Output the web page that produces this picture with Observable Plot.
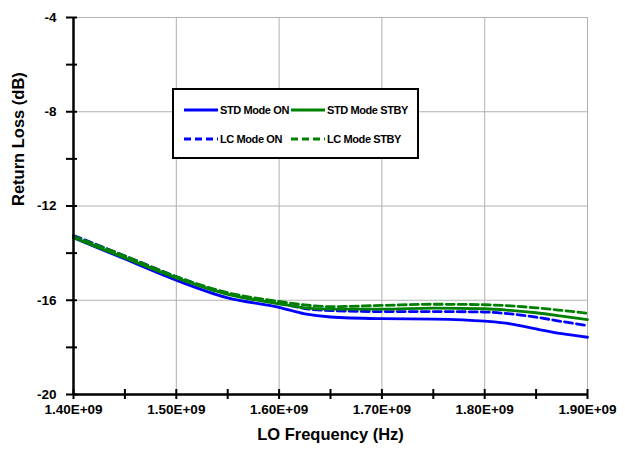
<!DOCTYPE html>
<html>
<head>
<meta charset="utf-8">
<script src="https://cdn.jsdelivr.net/npm/d3@7"></script>
<script src="https://cdn.jsdelivr.net/npm/@observablehq/plot@0.6"></script>
<style>
  body { margin: 0; background: #fff; }
  #wrap { position: relative; width: 625px; height: 452px; font-family: "Liberation Sans", Arial, sans-serif; font-weight: bold; }
  #legend { position: absolute; left: 172px; top: 88px; width: 243px; height: 67px; border: 2px solid #000; background: #fff; box-sizing: content-box; }
  .item { position: absolute; font-size: 11px; color: #000; display: flex; align-items: center; white-space: nowrap; letter-spacing: -0.4px; }
  .item svg { margin-right: 2px; }
</style>
</head>
<body>
<div id="wrap"><div id="chart"></div><div id="legend"></div></div>
<script>
// Frequencies (Hz, in units of 1e9)
const freqs = [1.40, 1.45, 1.50, 1.55, 1.60, 1.625, 1.65, 1.70, 1.75, 1.80, 1.825, 1.85, 1.875, 1.90];
const stdOn   = [-13.35, -14.25, -15.15, -15.90, -16.30, -16.58, -16.71, -16.78, -16.80, -16.89, -17.00, -17.22, -17.42, -17.57];
const stdStby = [-13.35, -14.20, -15.05, -15.75, -16.15, -16.32, -16.38, -16.38, -16.33, -16.36, -16.43, -16.53, -16.67, -16.82];
const lcOn    = [-13.25, -14.12, -15.00, -15.72, -16.12, -16.35, -16.44, -16.48, -16.48, -16.50, -16.58, -16.72, -16.90, -17.08];
const lcStby  = [-13.28, -14.12, -15.00, -15.68, -16.05, -16.20, -16.27, -16.22, -16.17, -16.19, -16.24, -16.32, -16.43, -16.55];

const seriesNames = ["STD Mode ON", "STD Mode STBY", "LC Mode ON", "LC Mode STBY"];
const seriesColors = ["#0000ff", "#008000", "#0000ff", "#008000"];
const seriesDash = [null, null, "8,4", "8,4"];
const seriesValues = [stdOn, stdStby, lcOn, lcStby];

const xTicks = [1.40, 1.45, 1.50, 1.55, 1.60, 1.65, 1.70, 1.75, 1.80, 1.85, 1.90].map(d => d * 1e9);
const xLabels = [1.40, 1.50, 1.60, 1.70, 1.80, 1.90].map(d => d * 1e9);
const xGrid = [1.50, 1.60, 1.70, 1.80, 1.90].map(d => d * 1e9);
const yTicks = [-20, -18, -16, -14, -12, -10, -8, -6, -4];
const yLabels = [-20, -16, -12, -8, -4];
const yGrid = [-16, -12, -8, -4];

const rows = [];
seriesNames.forEach((name, i) => {
  freqs.forEach((f, j) => rows.push({ series: name, f: f * 1e9, v: seriesValues[i][j] }));
});

const lineMarks = seriesNames.map((name, i) =>
  Plot.line(rows.filter(r => r.series === name), {
    x: "f", y: "v", stroke: seriesColors[i], strokeWidth: 2.8,
    strokeDasharray: seriesDash[i] || undefined, curve: "monotone-x"
  })
);
const ordered = [lineMarks[2], lineMarks[3], lineMarks[0], lineMarks[1]];

const chart = Plot.plot({
  width: 625,
  height: 452,
  marginLeft: 73,
  marginRight: 38,
  marginTop: 17,
  marginBottom: 58,
  style: { fontFamily: "'Liberation Sans', Arial, sans-serif", fontWeight: "bold", fontSize: "13.5px", color: "#000", background: "#fff" },
  x: { type: "linear", domain: [1.4e9, 1.9e9] },
  y: { domain: [-20, -4] },
  marks: [
    Plot.gridX({ ticks: xGrid, stroke: "#b0b0b0", strokeOpacity: 1, strokeWidth: 1 }),
    Plot.gridY({ ticks: yGrid, stroke: "#b0b0b0", strokeOpacity: 1, strokeWidth: 1 }),
    ...ordered,
    Plot.axisY({ ticks: yTicks, tickSize: 11, dx: 4, tickFormat: () => "", label: null, stroke: "#000", strokeWidth: 2 }),
    Plot.axisY({ ticks: yLabels, tickSize: 0, tickPadding: 17, tickFormat: d => String(d), label: null, fontSize: 13.5, fontWeight: "bold" }),
    Plot.axisX({ ticks: xTicks, tickSize: 10, dy: -5, tickFormat: () => "", label: null, stroke: "#000", strokeWidth: 2 }),
    Plot.axisX({ ticks: xLabels, tickSize: 0, tickPadding: 10, tickFormat: d => (d / 1e9).toFixed(2) + "E+09", label: null, fontSize: 13.5, fontWeight: "bold" }),
    Plot.ruleX([1.4e9], { stroke: "#000", strokeWidth: 2.5 }),
    Plot.ruleY([-20], { stroke: "#000", strokeWidth: 2.5 }),
    Plot.text(["LO Frequency (Hz)"], { frameAnchor: "bottom", dy: 45, fontSize: 16.5, fontWeight: "bold", fill: "#000" }),
    Plot.text(["Return Loss (dB)"], { frameAnchor: "left", dx: -55, rotate: -90, fontSize: 16.5, fontWeight: "bold", fill: "#000" })
  ]
});
document.getElementById("chart").appendChild(chart);

// Legend (HTML overlay inside the plot area)
const legend = document.getElementById("legend");
const legendPos = [[10, 23], [117, 23], [10, 52], [117, 52]];
seriesNames.forEach((name, i) => {
  const div = document.createElement("div");
  div.className = "item";
  div.style.left = legendPos[i][0] + "px";
  div.style.top = (legendPos[i][1] - 9) + "px";
  const dash = seriesDash[i] ? `stroke-dasharray="7,4"` : "";
  div.innerHTML = `<svg width="34" height="6"><line x1="0" y1="3" x2="34" y2="3" stroke="${seriesColors[i]}" stroke-width="2.8" ${dash}/></svg><span>${name}</span>`;
  legend.appendChild(div);
});
</script>
</body>
</html>
